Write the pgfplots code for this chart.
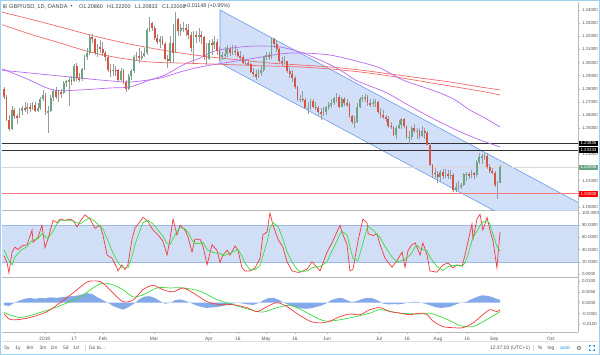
\documentclass[border=0pt]{standalone}
\usepackage{fontspec}
\setmainfont{Liberation Sans}
\newfontfamily\symf{DejaVu Sans}
\usepackage{pgfplots}
\usepackage{pgfplotstable}
\pgfplotsset{compat=1.18}

\definecolor{upc}{HTML}{6BA583}
\definecolor{dnc}{HTML}{D75442}
\definecolor{wickc}{HTML}{9A9A9A}
\definecolor{mared}{HTML}{F26B6B}
\definecolor{mapur}{HTML}{B96BF0}
\definecolor{chanfill}{HTML}{C9DAF7}
\definecolor{chanline}{HTML}{6C9BEA}
\definecolor{axgray}{HTML}{B8B8B8}
\definecolor{labgray}{HTML}{555555}
\definecolor{framec}{HTML}{9CCFF2}
\definecolor{kred}{HTML}{F23B3B}
\definecolor{dgreen}{HTML}{3CDC3C}
\definecolor{histc}{HTML}{6F9BE6}
\definecolor{hlred}{HTML}{F47C7C}
\definecolor{bandc}{HTML}{CCDCF6}
\definecolor{bandline}{HTML}{9DB8E8}

\pgfplotstableread{
i o h l c
0 1.2795 1.2810 1.2725 1.2735
1 1.2735 1.2750 1.2555 1.2560
2 1.2560 1.2600 1.2477 1.2490
3 1.2490 1.2670 1.2485 1.2635
4 1.2635 1.2650 1.2570 1.2590
5 1.2590 1.2610 1.2535 1.2585
6 1.2585 1.2650 1.2580 1.2630
7 1.2630 1.2670 1.2600 1.2650
8 1.2650 1.2700 1.2620 1.2645
9 1.2645 1.2690 1.2610 1.2660
10 1.2660 1.2690 1.2620 1.2650
11 1.2650 1.2700 1.2640 1.2680
12 1.2680 1.2700 1.2620 1.2630
13 1.2630 1.2690 1.2620 1.2650
14 1.2650 1.2740 1.2640 1.2720
15 1.2720 1.2790 1.2710 1.2755
16 1.2755 1.2770 1.2600 1.2620
17 1.2620 1.2670 1.2463 1.2630
18 1.2630 1.2750 1.2620 1.2730
19 1.2730 1.2800 1.2710 1.2785
20 1.2785 1.2810 1.2720 1.2740
21 1.2740 1.2790 1.2700 1.2775
22 1.2775 1.2800 1.2730 1.2765
23 1.2765 1.2860 1.2760 1.2845
24 1.2845 1.2870 1.2810 1.2860
25 1.2860 1.2890 1.2670 1.2865
26 1.2865 1.2900 1.2830 1.2860
27 1.2860 1.2990 1.2850 1.2970
28 1.2970 1.2995 1.2860 1.2880
29 1.2880 1.2920 1.2850 1.2875
30 1.2875 1.2960 1.2860 1.2950
31 1.2950 1.3060 1.2940 1.3045
32 1.3045 1.3110 1.3020 1.3075
33 1.3075 1.3215 1.3060 1.3195
34 1.3195 1.3220 1.3150 1.3180
35 1.3180 1.3190 1.3060 1.3075
36 1.3075 1.3140 1.3040 1.3115
37 1.3115 1.3170 1.3070 1.3100
38 1.3100 1.3160 1.3050 1.3075
39 1.3075 1.3090 1.3010 1.3040
40 1.3040 1.3060 1.2930 1.2940
41 1.2940 1.2990 1.2890 1.2935
42 1.2935 1.2990 1.2900 1.2945
43 1.2945 1.2970 1.2900 1.2940
44 1.2940 1.2950 1.2850 1.2870
45 1.2870 1.2960 1.2860 1.2935
46 1.2935 1.2950 1.2840 1.2855
47 1.2855 1.2870 1.2775 1.2795
48 1.2795 1.2910 1.2790 1.2895
49 1.2895 1.2950 1.2870 1.2935
50 1.2935 1.3060 1.2920 1.3045
51 1.3045 1.3080 1.3010 1.3050
52 1.3050 1.3110 1.3000 1.3040
53 1.3040 1.3090 1.3020 1.3050
54 1.3050 1.3110 1.3040 1.3070
55 1.3070 1.3260 1.3060 1.3250
56 1.3250 1.3350 1.3230 1.3300
57 1.3300 1.3310 1.3240 1.3260
58 1.3260 1.3280 1.3170 1.3190
59 1.3190 1.3220 1.3140 1.3155
60 1.3155 1.3200 1.3110 1.3180
61 1.3180 1.3200 1.3130 1.3140
62 1.3140 1.3160 1.3020 1.3030
63 1.3030 1.3060 1.2960 1.3010
64 1.3010 1.3200 1.3000 1.3150
65 1.3150 1.3290 1.3000 1.3075
66 1.3075 1.3381 1.3070 1.3330
67 1.3330 1.3340 1.3200 1.3240
68 1.3240 1.3290 1.3200 1.3260
69 1.3260 1.3310 1.3230 1.3262
70 1.3262 1.3290 1.3200 1.3250
71 1.3250 1.3290 1.3180 1.3210
72 1.3210 1.3230 1.3080 1.3110
73 1.3110 1.3240 1.3000 1.3210
74 1.3210 1.3240 1.3150 1.3200
75 1.3200 1.3260 1.3160 1.3210
76 1.3210 1.3240 1.3140 1.3195
77 1.3195 1.3200 1.3020 1.3045
78 1.3045 1.3150 1.2980 1.3030
79 1.3030 1.3170 1.3020 1.3150
80 1.3150 1.3180 1.3060 1.3130
81 1.3130 1.3200 1.3100 1.3160
82 1.3160 1.3180 1.3060 1.3085
83 1.3085 1.3120 1.3010 1.3040
84 1.3040 1.3080 1.3020 1.3060
85 1.3060 1.3120 1.3030 1.3062
86 1.3062 1.3130 1.3040 1.3100
87 1.3100 1.3120 1.3050 1.3070
88 1.3070 1.3130 1.3060 1.3090
89 1.3090 1.3130 1.3060 1.3080
90 1.3080 1.3100 1.3040 1.3050
91 1.3050 1.3090 1.3020 1.3040
92 1.3040 1.3060 1.2990 1.3000
93 1.3000 1.3020 1.2980 1.2995
94 1.2995 1.3020 1.2970 1.2990
95 1.2990 1.3000 1.2920 1.2930
96 1.2930 1.2960 1.2890 1.2910
97 1.2910 1.2940 1.2865 1.2890
98 1.2890 1.2950 1.2880 1.2920
99 1.2920 1.2970 1.2900 1.2940
100 1.2940 1.3050 1.2930 1.3040
101 1.3040 1.3080 1.3020 1.3060
102 1.3060 1.3080 1.3020 1.3040
103 1.3040 1.3190 1.3030 1.3180
104 1.3180 1.3190 1.3110 1.3140
105 1.3140 1.3170 1.3080 1.3100
106 1.3100 1.3110 1.3000 1.3010
107 1.3010 1.3040 1.2970 1.3005
108 1.3005 1.3050 1.2990 1.3008
109 1.3008 1.3010 1.2920 1.2935
110 1.2935 1.2960 1.2880 1.2915
111 1.2915 1.2940 1.2850 1.2880
112 1.2880 1.2900 1.2800 1.2810
113 1.2810 1.2820 1.2710 1.2720
114 1.2720 1.2750 1.2700 1.2722
115 1.2722 1.2780 1.2700 1.2715
116 1.2715 1.2730 1.2650 1.2655
117 1.2655 1.2700 1.2605 1.2657
118 1.2657 1.2720 1.2640 1.2705
119 1.2705 1.2720 1.2650 1.2665
120 1.2665 1.2700 1.2640 1.2655
121 1.2655 1.2670 1.2600 1.2620
122 1.2620 1.2650 1.2560 1.2605
123 1.2605 1.2660 1.2590 1.2620
124 1.2620 1.2670 1.2600 1.2660
125 1.2660 1.2700 1.2640 1.2680
126 1.2680 1.2720 1.2650 1.2695
127 1.2695 1.2740 1.2680 1.2730
128 1.2730 1.2765 1.2700 1.2740
129 1.2740 1.2750 1.2650 1.2665
130 1.2665 1.2740 1.2660 1.2725
131 1.2725 1.2740 1.2670 1.2690
132 1.2690 1.2720 1.2660 1.2685
133 1.2685 1.2700 1.2580 1.2590
134 1.2590 1.2600 1.2530 1.2545
135 1.2545 1.2590 1.2505 1.2547
136 1.2547 1.2690 1.2540 1.2665
137 1.2665 1.2740 1.2650 1.2725
138 1.2725 1.2750 1.2700 1.2730
139 1.2730 1.2760 1.2700 1.2735
140 1.2735 1.2750 1.2670 1.2690
141 1.2690 1.2720 1.2660 1.2685
142 1.2685 1.2720 1.2660 1.2695
143 1.2695 1.2720 1.2660 1.2698
144 1.2698 1.2710 1.2610 1.2620
145 1.2620 1.2650 1.2580 1.2600
146 1.2600 1.2640 1.2570 1.2585
147 1.2585 1.2600 1.2550 1.2570
148 1.2570 1.2590 1.2500 1.2520
149 1.2520 1.2550 1.2490 1.2510
150 1.2510 1.2520 1.2440 1.2450
151 1.2450 1.2520 1.2420 1.2505
152 1.2505 1.2560 1.2490 1.2525
153 1.2525 1.2580 1.2490 1.2570
154 1.2570 1.2580 1.2500 1.2515
155 1.2515 1.2520 1.2420 1.2430
156 1.2430 1.2480 1.2380 1.2432
157 1.2432 1.2520 1.2410 1.2505
158 1.2505 1.2530 1.2460 1.2475
159 1.2475 1.2500 1.2420 1.2478
160 1.2478 1.2490 1.2420 1.2440
161 1.2440 1.2520 1.2430 1.2475
162 1.2475 1.2500 1.2420 1.2460
163 1.2460 1.2480 1.2370 1.2375
164 1.2375 1.2390 1.2210 1.2220
165 1.2220 1.2230 1.2120 1.2160
166 1.2160 1.2200 1.2120 1.2150
167 1.2150 1.2170 1.2080 1.2125
168 1.2125 1.2180 1.2100 1.2165
169 1.2165 1.2190 1.2110 1.2135
170 1.2135 1.2190 1.2120 1.2150
171 1.2150 1.2180 1.2110 1.2140
172 1.2140 1.2180 1.2110 1.2143
173 1.2143 1.2160 1.2015 1.2030
174 1.2030 1.2080 1.2015 1.2055
175 1.2055 1.2100 1.2030 1.2060
176 1.2060 1.2080 1.2040 1.2065
177 1.2065 1.2160 1.2060 1.2150
178 1.2150 1.2170 1.2100 1.2152
179 1.2152 1.2170 1.2110 1.2135
180 1.2135 1.2180 1.2120 1.2155
181 1.2155 1.2170 1.2110 1.2145
182 1.2145 1.2260 1.2130 1.2245
183 1.2245 1.2310 1.2230 1.2280
184 1.2280 1.2300 1.2230 1.2285
185 1.2285 1.2310 1.2260 1.2290
186 1.2290 1.2300 1.2190 1.2205
187 1.2205 1.2230 1.2160 1.2175
188 1.2175 1.2200 1.2150 1.2160
189 1.2160 1.2170 1.2050 1.2070
190 1.2070 1.2100 1.1959 1.2086
191 1.2086 1.2220 1.2083 1.2201
}\ohlc

\pgfplotstableread{
x v
-1.5 1.3387
10.0 1.3331
21.6 1.3271
33.1 1.3210
44.7 1.3156
56.2 1.3111
67.8 1.3073
79.3 1.3042
90.9 1.3019
102.4 1.2996
114.0 1.2981
125.5 1.2966
137.1 1.2943
148.6 1.2913
160.2 1.2882
171.7 1.2852
183.3 1.2814
191.0 1.2791
}\redA

\pgfplotstableread{
x v
-1.5 1.3293
10.0 1.3217
21.6 1.3149
33.1 1.3080
44.7 1.3034
56.2 1.3004
67.8 1.2996
79.3 1.2989
90.9 1.2981
102.4 1.2973
114.0 1.2966
125.5 1.2951
137.1 1.2928
148.6 1.2897
160.2 1.2859
171.7 1.2821
183.3 1.2783
191.0 1.2753
}\redB

\pgfplotstableread{
x v
-1.5 1.2958
8.1 1.2882
18.9 1.2791
29.3 1.2791
40.8 1.2806
48.5 1.2814
56.2 1.2867
62.0 1.2905
69.7 1.2989
75.5 1.3034
81.2 1.3088
90.9 1.3118
98.6 1.3126
106.3 1.3118
114.0 1.3080
121.7 1.3019
129.4 1.2943
135.2 1.2867
140.9 1.2821
147.5 1.2768
156.3 1.2669
164.0 1.2585
171.7 1.2509
176.7 1.2463
183.3 1.2410
191.0 1.2357
}\purA

\pgfplotstableread{
x v
-1.5 1.2943
10.0 1.2920
25.4 1.2890
37.0 1.2867
48.5 1.2852
60.1 1.2882
67.8 1.2928
75.5 1.2966
87.0 1.3004
94.7 1.3027
106.3 1.3065
114.0 1.3073
125.5 1.3057
137.1 1.3004
144.8 1.2958
153.6 1.2867
160.2 1.2821
167.9 1.2768
173.7 1.2715
179.4 1.2638
185.2 1.2577
191.0 1.2509
}\purB

\pgfplotstableread{
x v
0 30
1.2 18
1.9 2
3.1 36
4.2 44
5.4 40
6.9 46
8.9 48
10.8 72
11.2 52
13.1 60
14.6 80
15.8 43
16.9 57
18.9 88
20.4 84
21.6 90
23.5 88
25.4 90
26.6 88
28.1 77
29.3 86
31.2 97
33.1 90
35.0 75
37.0 80
38.1 64
39.7 31
41.6 26
43.5 10
43.9 5
45.4 15
46.6 7
47.7 15
49.3 57
50.4 75
52.4 86
53.5 93
55.4 86
57.4 72
59.3 64
61.2 54
62.8 31
63.9 57
65.1 90
66.6 64
67.8 80
69.7 72
70.9 60
72.4 36
73.5 57
75.5 57
76.6 46
78.2 15
80.1 48
82.0 39
83.2 19
84.3 31
85.9 39
87.0 31
89.0 46
90.1 39
91.6 11
92.8 5
94.7 5
96.7 10
98.6 26
99.7 64
101.3 69
102.4 100
103.6 80
105.5 57
107.4 44
109.0 20
110.9 5
112.8 3
114.0 3
116.7 8
118.6 20
120.5 11
121.7 5
124.4 36
126.3 51
128.2 69
129.4 80
130.1 69
132.1 48
133.2 5
134.4 8
136.3 54
138.2 90
139.8 84
140.2 66
142.1 63
143.6 66
144.8 48
146.7 26
149.4 11
151.3 22
153.3 36
154.4 11
155.6 39
157.1 48
158.3 51
159.0 44
160.2 31
161.3 51
162.9 31
164.0 5
166.7 3
169.0 15
171.0 18
172.9 10
174.4 15
176.4 13
177.5 31
178.7 54
180.2 82
180.6 57
182.1 90
183.3 98
184.4 72
186.0 93
187.1 72
188.3 54
189.8 10
191.0 69
}\stK

\pgfplotstableread{
x v
0 40
1.9 22
3.1 15
4.2 28
6.9 40
8.9 45
10.8 55
13.1 58
14.6 66
16.9 58
18.9 70
20.4 82
21.6 88
25.4 88
28.1 84
29.3 82
31.2 88
33.1 92
35.0 86
37.0 78
38.1 74
39.7 58
41.6 38
43.5 22
45.4 10
47.7 10
49.3 28
50.4 48
52.4 72
53.5 84
55.4 88
57.4 82
59.3 72
61.2 62
62.8 50
63.9 48
65.1 58
66.6 70
67.8 76
69.7 74
70.9 68
72.4 56
73.5 50
75.5 50
76.6 52
78.2 40
80.1 36
82.0 34
83.2 34
84.3 30
85.9 32
87.0 34
89.0 38
90.1 40
91.6 30
92.8 18
94.7 7
96.7 7
98.6 14
99.7 30
101.3 52
102.4 75
103.6 84
105.5 78
107.4 58
109.0 36
110.9 20
112.8 8
114.0 4
116.7 5
118.6 10
120.5 12
121.7 12
124.4 20
126.3 38
128.2 54
129.4 66
130.1 70
132.1 64
133.2 45
134.4 25
136.3 22
138.2 50
139.8 75
140.2 78
142.1 72
143.6 65
144.8 60
146.7 45
149.4 28
151.3 20
153.3 22
154.4 24
155.6 28
157.1 35
158.3 45
159.0 47
160.2 42
161.3 40
162.9 38
164.0 28
166.7 12
169.0 6
171.0 12
172.9 14
174.4 14
176.4 13
177.5 18
178.7 32
180.2 55
180.6 60
182.1 70
183.3 80
184.4 85
186.0 87
187.1 82
188.3 65
189.8 45
191.0 38
}\stD

\pgfplotstableread{
x v
0 -0.0050
2.3 -0.0077
6.2 -0.0077
11.2 -0.0064
16.6 -0.0041
21.6 0.0000
26.6 0.0045
32.0 0.0095
35.8 0.0100
38.1 0.0090
42.0 0.0045
45.8 0.0005
49.7 0.0012
53.5 0.0060
57.4 0.0080
61.2 0.0060
65.1 0.0050
68.9 0.0068
72.8 0.0045
78.2 0.0005
83.2 -0.0009
88.2 -0.0009
93.6 -0.0023
97.4 -0.0041
101.3 -0.0018
105.1 0.0000
109.0 -0.0018
112.8 -0.0050
117.8 -0.0085
121.7 -0.0093
125.5 -0.0085
129.4 -0.0064
133.2 -0.0052
137.1 -0.0055
140.9 -0.0032
144.8 -0.0023
148.6 -0.0041
152.5 -0.0048
156.3 -0.0055
160.2 -0.0048
162.9 -0.0055
165.2 -0.0085
169.0 -0.0110
172.9 -0.0115
176.7 -0.0115
180.6 -0.0093
184.4 -0.0055
187.1 -0.0032
189.8 -0.0041
191.0 -0.0032
}\macd

\pgfplotstableread{
x v
0 -0.0045
6.2 -0.0068
13.9 -0.0045
21.6 -0.0014
29.3 0.0027
34.3 0.0068
38.1 0.0090
42.0 0.0082
45.8 0.0060
49.7 0.0027
53.5 0.0036
58.9 0.0068
63.9 0.0068
68.9 0.0068
75.5 0.0053
82.0 0.0014
88.2 -0.0009
94.7 -0.0032
99.7 -0.0043
105.1 -0.0023
110.1 -0.0012
114.0 -0.0030
121.7 -0.0077
125.5 -0.0085
133.2 -0.0070
140.9 -0.0048
144.8 -0.0032
152.5 -0.0048
160.2 -0.0052
164.0 -0.0048
170.6 -0.0077
175.6 -0.0105
180.6 -0.0110
186.0 -0.0077
191.0 -0.0041
}\msig

\pgfplotstableread{
x v
0 -0.0012
2 -0.0015
4 0.0000
6 0.0010
8 0.0018
10 0.0022
12 0.0018
14 0.0022
16 0.0020
18 0.0025
20 0.0022
22 0.0025
24 0.0028
26 0.0030
28 0.0032
30 0.0038
32 0.0044
34 0.0040
36 0.0025
38 0.0012
40 0.0000
42 -0.0015
44 -0.0025
46 -0.0032
48 -0.0020
50 -0.0005
52 0.0015
54 0.0028
56 0.0030
58 0.0022
60 0.0008
62 -0.0005
64 0.0000
66 0.0012
68 0.0015
70 0.0008
72 -0.0002
74 -0.0012
76 -0.0020
78 -0.0024
80 -0.0022
82 -0.0020
84 -0.0016
86 -0.0010
88 -0.0004
90 0.0000
92 -0.0004
94 -0.0008
96 -0.0010
98 -0.0002
100 0.0012
102 0.0022
104 0.0022
106 0.0012
108 -0.0002
110 -0.0012
112 -0.0020
114 -0.0026
116 -0.0028
118 -0.0026
120 -0.0020
122 -0.0014
124 -0.0004
126 0.0012
128 0.0020
130 0.0022
132 0.0012
134 0.0002
136 0.0008
138 0.0018
140 0.0022
142 0.0020
144 0.0010
146 -0.0004
148 -0.0008
150 -0.0006
152 -0.0008
154 -0.0004
156 0.0002
158 0.0004
160 0.0002
162 -0.0004
164 -0.0012
166 -0.0020
168 -0.0024
170 -0.0022
172 -0.0018
174 -0.0008
176 0.0000
178 0.0004
180 0.0016
182 0.0026
184 0.0034
186 0.0032
188 0.0026
190 0.0016
191 0.0014
}\hist

\pgfplotsset{
  panel/.style={
    scale only axis, width=576bp, xmin=-0.77, xmax=221.02,
    anchor=south west,
    axis x line*=bottom, axis y line*=right,
    axis line style={axgray, line width=0.5bp, -},
    xtick=\empty,
    tick style={axgray, line width=0.4bp},
    major tick length=2bp, tick align=outside,
    clip mode=individual,
    scaled y ticks=false, scaled x ticks=false,
    y tick label style={font=\fontsize{4.4}{5}\selectfont, text=labgray, xshift=-1.5bp,
      /pgf/number format/assume math mode=true},
    x tick label style={font=\fontsize{4.8}{5.5}\selectfont, text=labgray},
  },
}
\tikzset{
  lbl/.style={anchor=west, text=white, font=\fontsize{4.4}{5}\selectfont,
    inner sep=0.4bp, minimum height=5.6bp, minimum width=18.5bp, xshift=1bp},
}

\begin{document}
\begin{tikzpicture}
\useasboundingbox (0,0) rectangle (600bp,355bp);
\fill[white] (0,0) rectangle (600bp,355bp);

% ---------- price panel ----------
\begin{axis}[panel, at={(2bp,144.5bp)}, height=208.5bp,
  ymin=1.18730, ymax=1.34609,
  ytick={1.19,1.21,1.23,1.25,1.26,1.27,1.28,1.29,1.30,1.31,1.32,1.33,1.34},
  y tick label style={/pgf/number format/fixed, /pgf/number format/fixed zerofill,
    /pgf/number format/precision=5}]
\addplot[fill=chanfill, fill opacity=0.85, draw=chanline, line width=0.6bp]
  coordinates {(83.17,1.3400) (229.5,1.1844) (229.5,1.1437) (83.17,1.2996)} -- cycle;
\addplot[draw=black!15, line width=0.6bp] coordinates {(-1,1.22008) (230,1.22008)};
\addplot[draw=black!80, line width=0.7bp] coordinates {(-1,1.23835) (230,1.23835)};
\addplot[draw=black!80, line width=0.7bp] coordinates {(-1,1.23333) (230,1.23333)};
\addplot[draw=hlred, line width=1.2bp] coordinates {(-1,1.2) (230,1.2)};
\addplot[mared, line width=0.7bp, smooth] table[x=x, y=v] {\redA};
\addplot[mared, line width=0.7bp, smooth] table[x=x, y=v] {\redB};
\addplot[mapur, line width=0.7bp, smooth] table[x=x, y=v] {\purA};
\addplot[mapur, line width=0.7bp, smooth] table[x=x, y=v] {\purB};
% wicks
\addplot[draw=none, mark=none, error bars/.cd, y dir=both, y explicit, error mark=none,
  error bar style={draw=wickc, line width=0.5bp, solid}]
  table[x=i, y expr={(\thisrow{h}+\thisrow{l})/2}, y error expr={(\thisrow{h}-\thisrow{l})/2}] {\ohlc};
% up bodies
\addplot[draw=none, mark=none, error bars/.cd, y dir=both, y explicit, error mark=none,
  error bar style={draw=upc, line width=1.8bp, solid}]
  table[x=i, y expr={\thisrow{c}>=\thisrow{o} ? (\thisrow{o}+\thisrow{c})/2 : nan},
    y error expr={max(abs(\thisrow{c}-\thisrow{o})/2,0.00012)}] {\ohlc};
% down bodies
\addplot[draw=none, mark=none, error bars/.cd, y dir=both, y explicit, error mark=none,
  error bar style={draw=dnc, line width=1.8bp, solid}]
  table[x=i, y expr={\thisrow{c}<\thisrow{o} ? (\thisrow{o}+\thisrow{c})/2 : nan},
    y error expr={max(abs(\thisrow{c}-\thisrow{o})/2,0.00012)}] {\ohlc};
\node[lbl, fill=black] at (axis cs:221.02,1.23835) {1.23835};
\node[lbl, fill=black] at (axis cs:221.02,1.23333) {1.23333};
\node[lbl, fill=upc] at (axis cs:221.02,1.22008) {1.22008};
\node[lbl, fill=red] at (axis cs:221.02,1.20000) {1.20000};
\end{axis}

% ---------- stochastic panel ----------
\begin{axis}[panel, at={(2bp,78bp)}, height=66.5bp,
  ymin=-4.92, ymax=104.1, ytick={0,20,40,60,80,100},
  y tick label style={/pgf/number format/fixed, /pgf/number format/fixed zerofill,
    /pgf/number format/precision=4}]
\addplot[fill=bandc, fill opacity=0.9, draw=none] coordinates {(-1,20) (230,20) (230,80) (-1,80)} -- cycle;
\addplot[bandline, line width=0.5bp] coordinates {(-1,20) (230,20)};
\addplot[bandline, line width=0.5bp] coordinates {(-1,80) (230,80)};
\addplot[kred, line width=0.7bp] table[x=x, y=v] {\stK};
\addplot[dgreen, line width=0.7bp] table[x=x, y=v] {\stD};
\end{axis}

% ---------- MACD panel ----------
\begin{axis}[panel, at={(2bp,23bp)}, height=55bp,
  ymin=-0.0135, ymax=0.01184, ytick={-0.01,-0.005,0,0.005,0.01},
  y tick label style={/pgf/number format/fixed, /pgf/number format/fixed zerofill,
    /pgf/number format/precision=4},
  xtick={15.7,27,38.1,57.8,78.9,90.1,100.9,112,124.4,144.4,155.2,167.1,178.3,188.7,210.6},
  xticklabels={2019,17,Feb,Mar,Apr,16,May,16,Jun,Jul,16,Aug,16,Sep,Oct}]
\addplot[fill=histc, fill opacity=0.85, draw=none] table[x=x, y=v] {\hist} \closedcycle;
\addplot[dgreen, line width=0.7bp, smooth] table[x=x, y=v] {\msig};
\addplot[kred, line width=0.7bp, smooth] table[x=x, y=v] {\macd};
\end{axis}

% ---------- header ----------
\node[text=labgray, font=\symf\fontsize{5.5}{6}\selectfont, inner sep=0] at (5bp,348.5bp) {⊞};
\node[anchor=west, text=black!75, font=\fontsize{5.6}{6}\selectfont, inner sep=0] at (9bp,348.5bp) {GBP/USD, 1D, OANDA};
\node[text=labgray, font=\symf\fontsize{4}{5}\selectfont, inner sep=0] at (71.5bp,348.5bp) {▾};
\node[anchor=west, text=black!75, font=\fontsize{5.4}{6}\selectfont, inner sep=0] at (79bp,348.5bp) {O1.20860};
\node[anchor=west, text=black!75, font=\fontsize{5.4}{6}\selectfont, inner sep=0] at (107bp,348.5bp) {H1.22200};
\node[anchor=west, text=black!75, font=\fontsize{5.4}{6}\selectfont, inner sep=0] at (135bp,348.5bp) {L1.20833};
\node[anchor=west, text=black!75, font=\fontsize{5.4}{6}\selectfont, inner sep=0] at (162bp,348.5bp) {C1.22008};
\node[anchor=west, text=black!75, font=\fontsize{5.4}{6}\selectfont, inner sep=0] at (184bp,348.5bp) {+0.01148 (+0.95\%)};

% ---------- bottom toolbar ----------
\draw[black!12, line width=0.5bp] (2bp,13.5bp) -- (598bp,13.5bp);
\foreach \t/\xx in {5y/7,1y/18,6m/30,3m/43,1m/54,5d/66,1d/76}
  \node[text=labgray, font=\fontsize{5}{6}\selectfont, inner sep=0] at (\xx bp,7bp) {\t};
\draw[black!15, line width=0.5bp] (85bp,4bp) -- (85bp,10bp);
\node[text=labgray, font=\fontsize{5}{6}\selectfont, inner sep=0] at (97bp,7bp) {Go to...};
\node[text=labgray, font=\fontsize{5}{6}\selectfont, inner sep=0] at (510bp,7bp) {12:37:03 (UTC+1)};
\draw[black!15, line width=0.5bp] (533bp,4bp) -- (533bp,10bp);
\node[text=labgray, font=\fontsize{5}{6}\selectfont, inner sep=0] at (540bp,7bp) {\%};
\node[text=labgray, font=\fontsize{5}{6}\selectfont, inner sep=0] at (551bp,7bp) {log};
\node[text={rgb,255:red,33;green,150;blue,243}, font=\fontsize{5}{6}\selectfont, inner sep=0] at (565bp,7bp) {auto};
\node[text=labgray, font=\symf\fontsize{6}{6}\selectfont, inner sep=0] at (579bp,7bp) {⚙};
\begin{scope}[draw={rgb,255:red,33;green,150;blue,243}, line width=0.5bp]
\draw (589bp,6bp) -- (589bp,4.5bp) -- (590.5bp,4.5bp);
\draw (592.5bp,4.5bp) -- (594bp,4.5bp) -- (594bp,6bp);
\draw (589bp,8bp) -- (589bp,9.5bp) -- (590.5bp,9.5bp);
\draw (592.5bp,9.5bp) -- (594bp,9.5bp) -- (594bp,8bp);
\end{scope}

% ---------- frame ----------
\draw[framec, line width=1.2bp] (0.6bp,0.6bp) rectangle (599.4bp,354.4bp);
\end{tikzpicture}
\end{document}
